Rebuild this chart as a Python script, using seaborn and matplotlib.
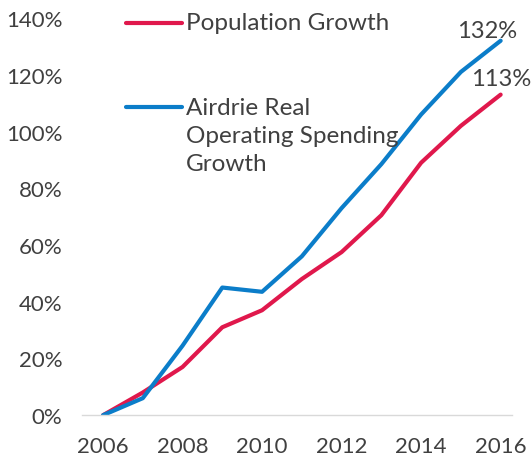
import pandas as pd
import matplotlib.pyplot as plt
import seaborn as sns
from matplotlib.lines import Line2D

years = list(range(2006, 2017))
population = [0, 8, 17, 31, 37, 48, 57.5, 70.5, 89, 102, 113]
spending = [0, 6, 24.5, 45, 43.5, 56, 73, 88.5, 106, 121, 132]
series_names = ["Population Growth", "Airdrie Real\nOperating Spending\nGrowth"]
colors = ["#E0184C", "#0B7DC9"]

df = pd.concat([
    pd.DataFrame({"year": years, "value": population, "series": series_names[0]}),
    pd.DataFrame({"year": years, "value": spending, "series": series_names[1]}),
])

sns.set_style("white")
plt.rcParams["font.family"] = ["Lato", "DejaVu Sans"]
text_col = "#404040"

fig = plt.figure(figsize=(5.32, 4.64), dpi=100)
ax = fig.add_axes([0.154, 0.103, 0.808, 0.856])

sns.lineplot(data=df, x="year", y="value", hue="series", palette=colors,
             linewidth=3, legend=False, ax=ax)

ax.set_xlim(2005.47, 2016.28)
ax.set_ylim(0, 140)
ax.set_xticks(range(2006, 2017, 2))
ax.set_yticks(range(0, 141, 20))
ax.set_yticklabels([f"{v}%" for v in range(0, 141, 20)])
ax.tick_params(axis="both", length=0, labelsize=16, colors=text_col)
ax.tick_params(axis="x", pad=15)
ax.tick_params(axis="y", pad=14)
ax.set_xlabel("")
ax.set_ylabel("")
for s in ["top", "right", "left"]:
    ax.spines[s].set_visible(False)
ax.spines["bottom"].set_color("#D9D9D9")
ax.spines["bottom"].set_linewidth(1)

# end labels
ax.annotate(f"{spending[-1]}%", (years[-1], spending[-1]), xytext=(-10, 7),
            textcoords="offset points", ha="center", va="center",
            fontsize=17, color=text_col)
ax.annotate(f"{population[-1]}%", (years[-1], population[-1]), xytext=(0, 11.5),
            textcoords="offset points", ha="center", va="center",
            fontsize=17, color=text_col)

# legend drawn by hand so the handle sits on the first text line
for name, col, yy, yt in zip(series_names, colors, [0.987, 0.776], [1.015, 0.802]):
    ax.add_line(Line2D([0.102, 0.233], [yy, yy], transform=ax.transAxes,
                       color=col, lw=3, solid_capstyle="round", clip_on=False))
    ax.text(0.242, yt, name, transform=ax.transAxes, va="top", ha="left",
            fontsize=17.5, color=text_col, linespacing=1.42)

fig.savefig("out.png", dpi=100)
